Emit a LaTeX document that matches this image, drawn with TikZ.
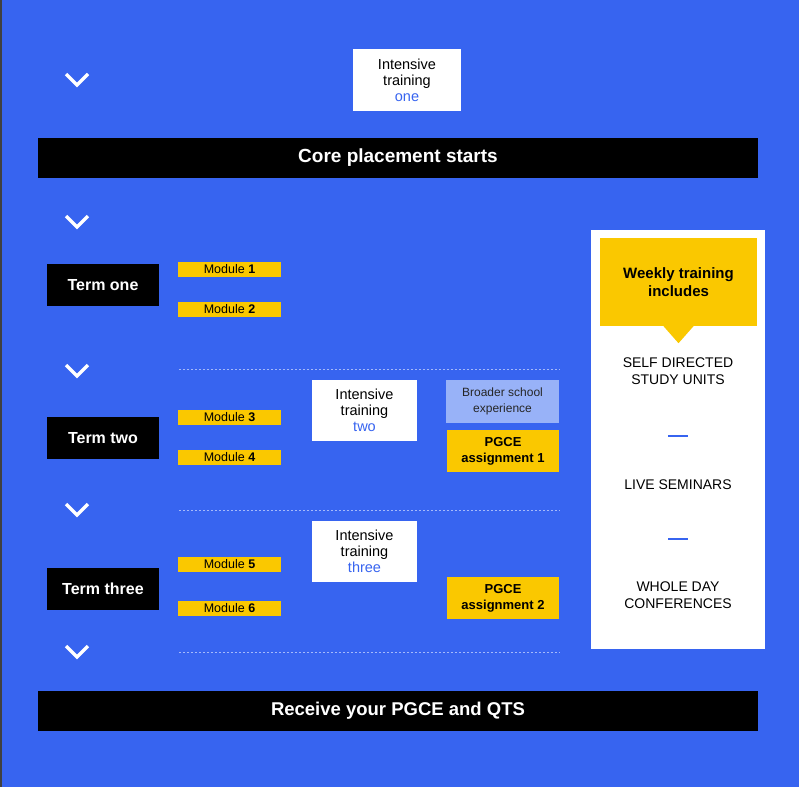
\documentclass[tikz,border=0pt]{standalone}
\usepackage{fontspec}
\setmainfont{Liberation Sans}
\definecolor{bgblue}{RGB}{55,100,240}
\definecolor{ygold}{RGB}{250,200,0}
\definecolor{paleblue}{RGB}{152,178,248}
\definecolor{dashline}{RGB}{165,185,250}
\newcommand{\fs}[2]{\fontsize{#1}{#2}\selectfont}
\begin{document}
\begin{tikzpicture}[x=1pt,y=-1pt,
    bar/.style={fill=black,text=white,minimum width=720pt,minimum height=40pt,inner sep=0pt,font=\fs{19}{22}\bfseries},
    term/.style={fill=black,text=white,minimum width=112pt,minimum height=42pt,inner sep=0pt,font=\fs{16}{18}\bfseries},
    module/.style={fill=ygold,minimum width=103pt,minimum height=15pt,inner sep=0pt,font=\fs{12.5}{14}},
    intensive/.style={fill=white,minimum width=105pt,minimum height=61pt,inner sep=0pt,align=center,font=\fs{14.5}{16}},
    pgce/.style={fill=ygold,minimum width=112pt,minimum height=42pt,inner sep=0pt,align=center,font=\fs{13}{16}\bfseries},
    listitem/.style={align=center,font=\fs{14}{17}},
    chev/.style={white,line width=3.5pt},
    termline/.style={dashline,line width=1pt,dash pattern=on 2pt off 2pt},
    divider/.style={bgblue,line width=2.5pt}]
    % background
    \fill[bgblue] (0,0) rectangle (799,787);
    \fill[black!75] (0,0) rectangle (1.5,787);
    % chevrons and term separators
    \foreach \y in {80,222,371,510,652}
        \draw[chev] (66,\y-6) -- (77,\y+5) -- (88,\y-6);
    \foreach \y in {369,510,652}
        \draw[termline] (179,\y) -- (560,\y);
    \node[intensive,minimum width=108pt,minimum height=62pt] (it1) at (407,80) {Intensive\\training\\\textcolor{bgblue}{one}};
    \node[bar] (core) at (398,158) {Core placement starts};
    \node[term] (term1) at (103,285) {Term one};
    \node[term] (term2) at (103,438) {Term two};
    \node[term] (term3) at (103,589) {Term three};
    \node[module] (mod1) at (229.5,269.5) {Module \textbf{1}};
    \node[module] (mod2) at (229.5,309.5) {Module \textbf{2}};
    \node[module] (mod3) at (229.5,417.5) {Module \textbf{3}};
    \node[module] (mod4) at (229.5,457.5) {Module \textbf{4}};
    \node[module] (mod5) at (229.5,564.5) {Module \textbf{5}};
    \node[module] (mod6) at (229.5,608.5) {Module \textbf{6}};
    \node[intensive] (it2) at (364.5,410.5) {Intensive\\training\\\textcolor{bgblue}{two}};
    \node[intensive] (it3) at (364.5,551.5) {Intensive\\training\\\textcolor{bgblue}{three}};
    \node[fill=paleblue,text=black!85,minimum width=113pt,minimum height=43pt,inner sep=0pt,align=center,font=\fs{12}{16}] (broad) at (502.5,401.5) {Broader school\\experience};
    \node[pgce] (pgce1) at (503,451) {PGCE\\assignment 1};
    \node[pgce] (pgce2) at (503,598) {PGCE\\assignment 2};
    % weekly panel
    \node[fill=white,minimum width=174pt,minimum height=419pt,inner sep=0pt] (panel) at (678,439.5) {};
    \node[fill=ygold,minimum width=157pt,minimum height=88pt,inner sep=0pt,align=center,font=\fs{15}{18}\bfseries] (weekly) at (678.5,282) {Weekly training\\includes};
    \fill[ygold] ([xshift=-15pt]weekly.south) -- ([yshift=-17pt]weekly.south) -- ([xshift=15pt]weekly.south) -- cycle;
    \node[listitem] (self) at (678,371) {SELF DIRECTED\\STUDY UNITS};
    \node[listitem] (live) at (678,485) {LIVE SEMINARS};
    \node[listitem] (whole) at (678,595) {WHOLE DAY\\CONFERENCES};
    \draw[divider] (668,436) -- (688,436);
    \draw[divider] (668,539) -- (688,539);
    \node[bar,font=\fs{18.5}{22}\bfseries] (receive) at (398,711) {Receive your PGCE and QTS};
\end{tikzpicture}
\end{document}
